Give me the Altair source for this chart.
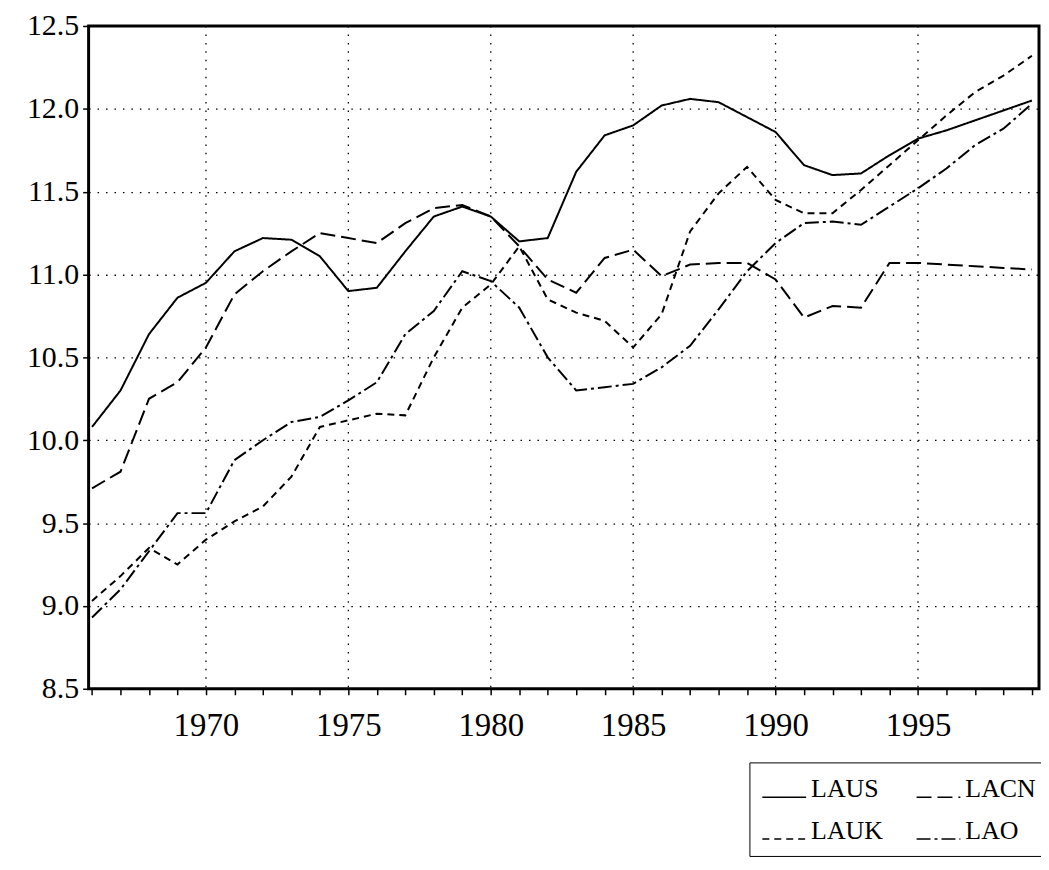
import altair as alt
import pandas as pd

years = list(range(1966, 2000))
series_names = ["LAUS", "LACN", "LAUK", "LAO"]
# legend is filled column by column: put LAUS/LACN in the first row
legend_order = ["LAUS", "LAUK", "LACN", "LAO"]
dash_by_series = {"LAUS": [1, 0], "LACN": [15, 6], "LAUK": [7, 5], "LAO": [14, 4, 3, 4]}

laus = [10.08, 10.30, 10.64, 10.86, 10.95, 11.14, 11.22, 11.21, 11.11, 10.90,
        10.92, 11.14, 11.35, 11.41, 11.35, 11.20, 11.22, 11.62, 11.84, 11.90,
        12.02, 12.06, 12.04, 11.95, 11.86, 11.66, 11.60, 11.61, 11.72, 11.82,
        11.87, 11.93, 11.99, 12.05]
lacn = [9.71, 9.81, 10.25, 10.35, 10.56, 10.88, 11.02, 11.14, 11.25, 11.22,
        11.19, 11.31, 11.40, 11.42, 11.35, 11.17, 10.97, 10.89, 11.10, 11.15,
        10.99, 11.06, 11.07, 11.07, 10.97, 10.74, 10.81, 10.80, 11.07, 11.07,
        11.06, 11.05, 11.04, 11.03]
lauk = [9.03, 9.18, 9.35, 9.25, 9.40, 9.51, 9.60, 9.78, 10.08, 10.12,
        10.16, 10.15, 10.50, 10.80, 10.94, 11.17, 10.85, 10.77, 10.72, 10.56,
        10.76, 11.26, 11.49, 11.65, 11.45, 11.37, 11.37, 11.51, 11.66, 11.81,
        11.96, 12.10, 12.20, 12.32]
lao = [8.93, 9.10, 9.33, 9.56, 9.56, 9.88, 10.00, 10.11, 10.14, 10.24,
       10.35, 10.64, 10.78, 11.02, 10.96, 10.80, 10.50, 10.30, 10.32, 10.34,
       10.44, 10.57, 10.79, 11.02, 11.19, 11.31, 11.32, 11.30, 11.41, 11.52,
       11.64, 11.78, 11.88, 12.03]

y_ticks = [8.5, 9.0, 9.5, 10.0, 10.5, 11.0, 11.5, 12.0, 12.5]
x_grid_years = [1970, 1975, 1980, 1985, 1990, 1995]

rows = []
for name, vals in zip(series_names, [laus, lacn, lauk, lao]):
    for yr, v in zip(years, vals):
        rows.append({"year": yr, "value": v, "series": name})
df = pd.DataFrame(rows)
grid_df = pd.DataFrame({"year": x_grid_years})

x_scale = alt.Scale(domain=[1965.88, 1999.25], nice=False, zero=False)
y_scale = alt.Scale(domain=[8.5, 12.5], nice=False, zero=False)

x_axis = alt.Axis(values=years, format="d",
                  labelExpr="datum.value % 5 == 0 ? datum.label : ''",
                  grid=False, tickSize=6, labelPadding=15, title=None,
                  labelFontSize=33, labelFlush=False, labelOverlap=False)
x_enc = alt.X("year:Q", scale=x_scale, axis=x_axis)

rules = alt.Chart(grid_df).mark_rule(color="black", strokeWidth=1.3,
                                     strokeDash=[1.5, 7]).encode(x=x_enc)

lines = alt.Chart(df).mark_line(color="black", strokeWidth=2).encode(
    x=x_enc,
    y=alt.Y("value:Q", scale=y_scale,
            axis=alt.Axis(values=y_ticks, format=".1f", grid=True,
                          gridDash=[1.5, 7], gridWidth=1.3, gridColor="black",
                          tickSize=6, labelPadding=4, labelFontSize=30,
                          title=None)),
    strokeDash=alt.StrokeDash(
        "series:N",
        scale=alt.Scale(domain=legend_order,
                        range=[dash_by_series[s] for s in legend_order]),
        legend=alt.Legend(title=None, orient="none", legendX=664, legendY=740,
                          columns=2, symbolType="stroke", symbolSize=1936,
                          symbolStrokeWidth=1.5, symbolStrokeColor="black",
                          labelFont="Liberation Serif", labelFontSize=26,
                          labelColor="black", labelBaseline="alphabetic",
                          strokeColor="black", fillColor="white",
                          padding=12, rowPadding=14, columnPadding=30,
                          labelOffset=4)),
    order="year:Q",
)

chart = alt.layer(rules, lines).properties(
    width=955, height=666,
    autosize=alt.AutoSizeParams(type="none"),
    padding={"left": 81, "top": 16, "right": 2, "bottom": 168},
).configure_view(stroke="black", strokeWidth=3).configure_axis(
    domain=False, labelFont="Liberation Serif",
    labelColor="black", tickColor="black", tickWidth=1.5,
)

chart.save("out.html", embed_options={"renderer": "svg", "actions": False})
